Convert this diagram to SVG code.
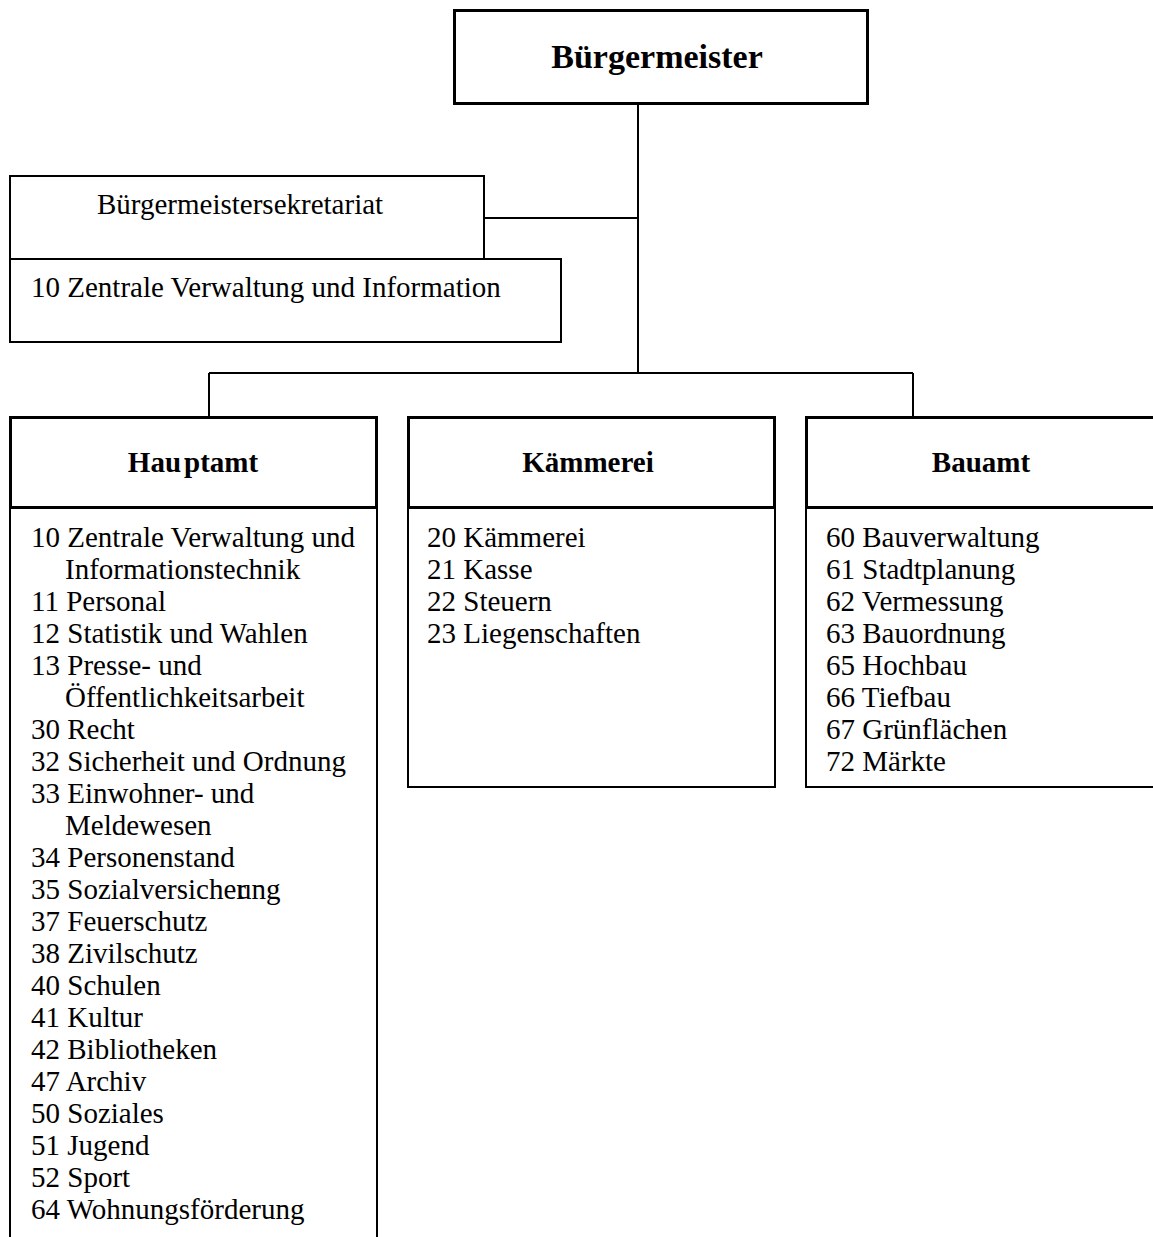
<svg xmlns="http://www.w3.org/2000/svg" width="1153" height="1237" viewBox="0 0 1153 1237">
<style>
.box{fill:#fff;stroke:#000;stroke-width:2}
.head{fill:#fff;stroke:#000;stroke-width:3}
.ln{stroke:#000;stroke-width:2;fill:none}
text{font-family:"Liberation Serif","Times New Roman",serif;fill:#000}
.t{font-size:29px}
.b{font-size:29px;font-weight:bold;text-anchor:middle}
</style>
<rect width="1153" height="1237" fill="#fff"/>
<g id="connectors">
<line class="ln" x1="638" y1="104" x2="638" y2="373"/>
<line class="ln" x1="484" y1="218" x2="638" y2="218"/>
<line class="ln" x1="209" y1="373" x2="913" y2="373"/>
<line class="ln" x1="209" y1="373" x2="209" y2="417"/>
<line class="ln" x1="913" y1="373" x2="913" y2="417"/>
</g>
<g id="buergermeister">
<rect class="head" x="454.5" y="10.5" width="413" height="93"/>
<text x="657" y="68" style="font-size:34px;font-weight:bold;text-anchor:middle">Bürgermeister</text>
</g>
<g id="sekretariat">
<rect class="box" x="10" y="176" width="474" height="83"/>
<text class="t" x="97" y="214">Bürgermeistersekretariat</text>
</g>
<g id="zentrale">
<rect class="box" x="10" y="259" width="551" height="83"/>
<text class="t" x="31" y="297">10 Zentrale Verwaltung und Information</text>
</g>
<g id="hauptamt">
<path class="box" d="M10,507 V1240 M377,507 V1240"/>
<rect class="head" x="10.5" y="417.5" width="366" height="90"/>
<text class="b" x="193" y="472">Hau<tspan dx="3">ptamt</tspan></text>
<text class="t" x="31" y="547">10 Zentrale Verwaltung und</text>
<text class="t" x="65" y="579">Informationstechnik</text>
<text class="t" x="31" y="611">11 Personal</text>
<text class="t" x="31" y="643">12 Statistik und Wahlen</text>
<text class="t" x="31" y="675">13 Presse- und</text>
<text class="t" x="65" y="707">Öffentlichkeitsarbeit</text>
<text class="t" x="31" y="739">30 Recht</text>
<text class="t" x="31" y="771">32 Sicherheit und Ordnung</text>
<text class="t" x="31" y="803">33 Einwohner- und</text>
<text class="t" x="65" y="835">Meldewesen</text>
<text class="t" x="31" y="867">34 Personenstand</text>
<text class="t" x="31" y="899">35 Sozialversicher<tspan dx="-9">ung</tspan></text>
<text class="t" x="31" y="931">37 Feuerschutz</text>
<text class="t" x="31" y="963">38 Zivilschutz</text>
<text class="t" x="31" y="995">40 Schulen</text>
<text class="t" x="31" y="1027">41 Kultur</text>
<text class="t" x="31" y="1059">42 Bibliotheken</text>
<text class="t" x="31" y="1091">47 Archiv</text>
<text class="t" x="31" y="1123">50 Soziales</text>
<text class="t" x="31" y="1155">51 Jugend</text>
<text class="t" x="31" y="1187">52 Sport</text>
<text class="t" x="31" y="1219">64 Wohnungsförderung</text>
</g>
<g id="kaemmerei">
<rect class="box" x="408" y="507" width="367" height="280"/>
<rect class="head" x="408.5" y="417.5" width="366" height="90"/>
<text class="b" x="588" y="472">Kämmerei</text>
<text class="t" x="427" y="547">20 Kämmerei</text>
<text class="t" x="427" y="579">21 Kasse</text>
<text class="t" x="427" y="611">22 Steuern</text>
<text class="t" x="427" y="643">23 Liegenschaften</text>
</g>
<g id="bauamt">
<path class="box" d="M1160,787 H806 V507"/>
<path class="head" d="M1160,417.5 H806.5 V507.5 H1160"/>
<text class="b" x="981" y="472">Bauamt</text>
<text class="t" x="826" y="547">60 Bauverwaltung</text>
<text class="t" x="826" y="579">61 Stadtplanung</text>
<text class="t" x="826" y="611">62 Vermessung</text>
<text class="t" x="826" y="643">63 Bauordnung</text>
<text class="t" x="826" y="675">65 Hochbau</text>
<text class="t" x="826" y="707">66 Tiefbau</text>
<text class="t" x="826" y="739">67 Grünflächen</text>
<text class="t" x="826" y="771">72 Märkte</text>
</g>
</svg>
